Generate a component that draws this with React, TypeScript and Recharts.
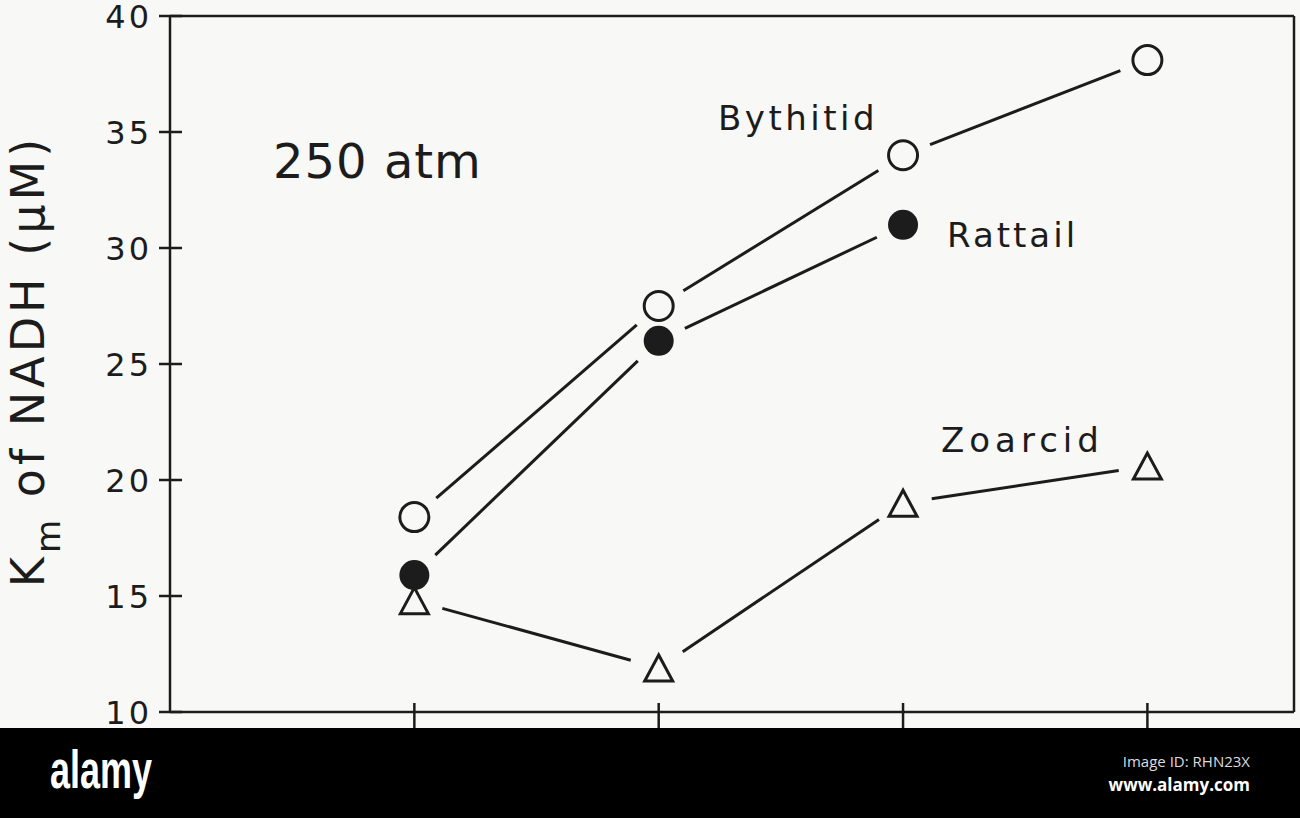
import { LineChart, Line, XAxis, YAxis, ReferenceLine, Customized } from 'recharts';

// values (Km of NADH, µM)
const stations = [1, 2, 3, 4];
const bythitid = [18.4, 27.5, 34.0, 38.1];
const rattail = [15.9, 26.0, 31.0, null];
const zoarcid = [14.8, 11.9, 19.0, 20.6];
const yTicks = [10, 15, 20, 25, 30, 35, 40];
const xTicks = [1, 2, 3, 4];

const data = stations.map((x, i) => ({
    x,
    bythitid: bythitid[i],
    rattail: rattail[i],
    zoarcid: zoarcid[i],
}));

const INK = '#1c1c1c';
const PAPER = '#f8f8f6';
const FONT = '"DejaVu Sans", sans-serif';
const GAP = 29;

type Kind = 'open' | 'filled' | 'triangle';

// marker plus the segment to the next point, cut short so it never touches the markers
const makeDot = (kind: Kind) => (props: any) => {
    const { cx, cy, index, points, value } = props;
    const key = `${kind}-${index}`;
    if (value == null || cx == null || cy == null) return <g key={key} />;

    let seg = null;
    const next = points ? points[index + 1] : null;
    if (next && next.value != null && next.y != null) {
        const dx = next.x - cx;
        const dy = next.y - cy;
        const len = Math.hypot(dx, dy);
        const ux = dx / len;
        const uy = dy / len;
        seg = (
            <line
                x1={cx + ux * GAP}
                y1={cy + uy * GAP}
                x2={next.x - ux * GAP}
                y2={next.y - uy * GAP}
                stroke={INK}
                strokeWidth={3}
            />
        );
    }

    let marker;
    if (kind === 'open') {
        marker = <circle cx={cx} cy={cy} r={14.5} fill={PAPER} stroke={INK} strokeWidth={3} />;
    } else if (kind === 'filled') {
        marker = <circle cx={cx} cy={cy} r={15} fill={INK} />;
    } else {
        marker = (
            <polygon
                points={`${cx},${cy - 13} ${cx - 14},${cy + 13} ${cx + 14},${cy + 13}`}
                fill={PAPER}
                stroke={INK}
                strokeWidth={3}
            />
        );
    }
    return (
        <g key={key}>
            {seg}
            {marker}
        </g>
    );
};

// tick label plus a tick mark that crosses the axis
const YTick = (props: any) => {
    const { x, y, payload } = props;
    return (
        <g>
            <line x1={x + 10} x2={x + 33} y1={y} y2={y} stroke={INK} strokeWidth={2.5} />
            <text x={x + 3} y={y} dy={11.5} textAnchor="end" fontFamily={FONT} fontSize={32} letterSpacing={3} fill={INK}>
                {payload.value}
            </text>
        </g>
    );
};

const XTick = (props: any) => {
    const { x, y } = props;
    return <line x1={x} x2={x} y1={y - 20} y2={y + 6} stroke={INK} strokeWidth={2.5} />;
};

const Annotations = () => (
    <g fontFamily={FONT} fill={INK}>
        <text x={273} y={178} fontSize={48} letterSpacing={1}>250 atm</text>
        <text x={718} y={130} fontSize={34} letterSpacing={3.5}>Bythitid</text>
        <text x={947} y={247} fontSize={34} letterSpacing={3}>Rattail</text>
        <text x={941} y={452} fontSize={34} letterSpacing={5}>Zoarcid</text>
        <text transform="rotate(-90, 44, 361)" x={44} y={361} textAnchor="middle" fontSize={46} letterSpacing={4}>
            K<tspan fontSize={34} dy={16}>m</tspan>
            <tspan dy={-16}> of NADH (μM)</tspan>
        </text>
    </g>
);

const App = () => {
    return (
        <div style={{ position: 'absolute', left: 0, top: 0, width: 1300, height: 818, background: PAPER, overflow: 'hidden' }}>
            <LineChart width={1300} height={818} data={data} margin={{ top: 16, right: 6, bottom: 76, left: 0 }}>
                <XAxis
                    dataKey="x"
                    type="number"
                    domain={[0, 4.6]}
                    ticks={xTicks}
                    height={30}
                    tickSize={11}
                    tickMargin={0}
                    tickLine={false}
                    tick={XTick}
                    axisLine={{ stroke: INK, strokeWidth: 2.5 }}
                />
                <YAxis
                    type="number"
                    domain={[10, 40]}
                    ticks={yTicks}
                    width={170}
                    tickSize={11}
                    tickMargin={10}
                    tickLine={false}
                    tick={YTick}
                    axisLine={{ stroke: INK, strokeWidth: 2.5 }}
                />
                <ReferenceLine y={40} stroke={INK} strokeWidth={2.5} />
                <ReferenceLine x={4.6} stroke={INK} strokeWidth={2.5} />
                <Line dataKey="bythitid" stroke="none" dot={makeDot('open')} activeDot={false} isAnimationActive={false} />
                <Line dataKey="rattail" stroke="none" dot={makeDot('filled')} activeDot={false} isAnimationActive={false} />
                <Line dataKey="zoarcid" stroke="none" dot={makeDot('triangle')} activeDot={false} isAnimationActive={false} />
                <Customized component={Annotations} />
            </LineChart>
            <svg width={1300} height={90} style={{ position: 'absolute', left: 0, top: 728 }}>
                <rect x={0} y={0} width={1300} height={90} fill="#000" />
                <text
                    x={50}
                    y={60}
                    fontFamily='"Liberation Sans Narrow", "Liberation Sans", sans-serif'
                    fontWeight="bold"
                    fontSize={54}
                    textLength={102}
                    lengthAdjust="spacingAndGlyphs"
                    fill="#fff"
                >
                    alamy
                </text>
                <text x={1250} y={39} textAnchor="end" fontFamily='"Open Sans", sans-serif' fontSize={15} fill="#ddd">
                    Image ID: RHN23X
                </text>
                <text x={1250} y={63} textAnchor="end" fontFamily='"Open Sans", sans-serif' fontWeight="bold" fontSize={17} fill="#fff">
                    www.alamy.com
                </text>
            </svg>
        </div>
    );
};

export default App;
